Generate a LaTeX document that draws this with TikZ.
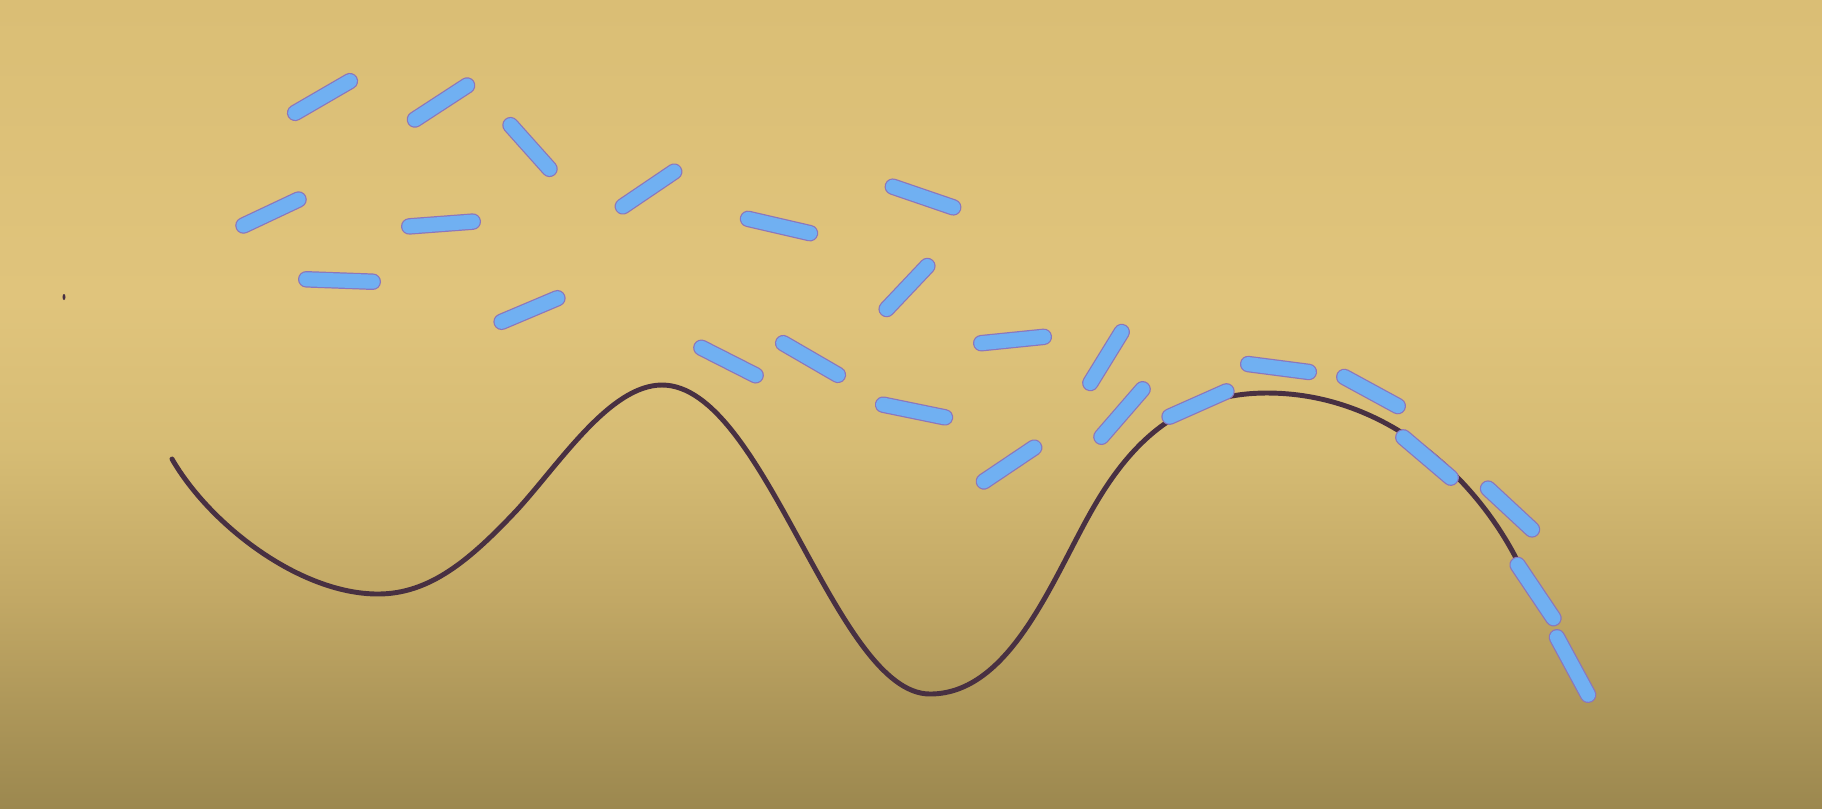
\documentclass[tikz,border=0pt]{standalone}
\usetikzlibrary{calc}
\definecolor{stickfill}{RGB}{112,176,242}
\definecolor{stickedge}{RGB}{140,118,188}
\definecolor{curvecol}{RGB}{72,48,66}
\definecolor{bgA}{RGB}{156,136,79}
\definecolor{bgB}{RGB}{175,152,90}
\definecolor{bgC}{RGB}{194,168,101}
\definecolor{bgD}{RGB}{214,188,116}
\definecolor{bgE}{RGB}{224,196,124}
\definecolor{bgF}{RGB}{218,190,117}
\pgfdeclareverticalshading{bgshade}{100bp}{color(0bp)=(bgA); color(25bp)=(bgA); color(31.7bp)=(bgB); color(37.9bp)=(bgC); color(47.2bp)=(bgD); color(56.4bp)=(bgE); color(75bp)=(bgF); color(100bp)=(bgF)}
\tikzset{
  stickedgestyle/.style={line width=4.7pt, color=stickedge, line cap=round, shorten <=2.35pt, shorten >=2.35pt},
  stickfillstyle/.style={line width=4.0pt, color=stickfill, line cap=round, shorten <=2.35pt, shorten >=2.35pt},
  wave/.style={line width=1.4pt, color=curvecol, line cap=round}
}
\newcommand{\stk}[2]{\draw[stickedgestyle] #1 -- #2; \draw[stickfillstyle] #1 -- #2;}
\begin{document}
\begin{tikzpicture}[x=0.01cm, y=-0.01cm]
\useasboundingbox (0,0) rectangle (1822,808);
\shade[shading=bgshade] (0,0) rectangle (1822,808);
% speck
\fill[curvecol] (64,297) ellipse (1.5 and 3);
% wavy curve
\draw[wave] (172,459) .. controls (210,525) and (300,594) .. (378,594)
  .. controls (430,594) and (470,560) .. (517,510)
  .. controls (560,463) and (610,385) .. (662,385)
  .. controls (765,385) and (835,694) .. (930,694)
  .. controls (1010,694) and (1052,580) .. (1092,510)
  .. controls (1130,443) and (1180,393) .. (1267,393)
  .. controls (1380,393) and (1470,470) .. (1516,558);
% sticks
\stk{(288,117)}{(357,77)}
\stk{(408,124)}{(474,81)}
\stk{(505,119)}{(555,175)}
\stk{(236,229)}{(306,196)}
\stk{(401,227)}{(481,221)}
\stk{(298,279)}{(381,282)}
\stk{(494,325)}{(565,295)}
\stk{(616,211)}{(681,167)}
\stk{(740,217)}{(818,235)}
\stk{(885,184)}{(961,210)}
\stk{(881,315)}{(933,260)}
\stk{(694,344)}{(763,379)}
\stk{(776,339)}{(845,379)}
\stk{(875,403)}{(953,419)}
\stk{(973,344)}{(1052,336)}
\stk{(977,486)}{(1041,443)}
\stk{(1086,390)}{(1126,325)}
\stk{(1096,443)}{(1148,383)}
\stk{(1162,420)}{(1234,388)}
\stk{(1240,363)}{(1317,373)}
\stk{(1337,373)}{(1405,410)}
\stk{(1397,432)}{(1457,483)}
\stk{(1482,483)}{(1538,535)}
\stk{(1513,558)}{(1558,625)}
\stk{(1553,630)}{(1592,702)}
\end{tikzpicture}
\end{document}
